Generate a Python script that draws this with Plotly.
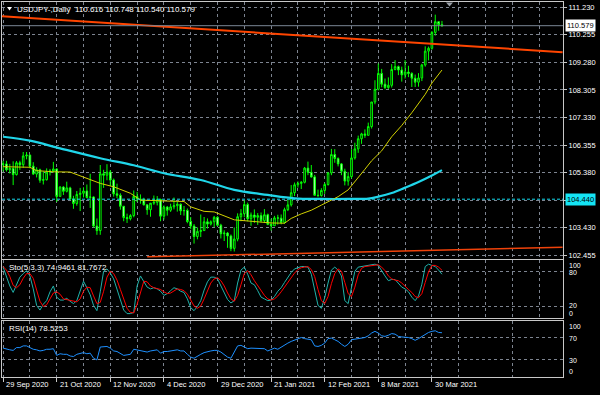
import plotly.graph_objects as go
import pandas as pd

# ---------------- data ----------------
bdays = pd.bdate_range("2020-09-29", "2021-04-02")
holidays = pd.to_datetime(["2020-12-25", "2021-01-01"])
dates = [d for d in bdays if d not in holidays]
bars = list(range(len(dates)))

opens = [105.67,105.69,105.48,105.53,105.31,105.73,105.66,105.97,106.00,105.61,
         105.33,105.48,105.11,105.13,105.40,105.44,105.51,104.54,104.87,104.72,
         104.84,104.45,104.29,104.61,104.65,104.73,104.50,104.52,103.49,103.33,
         105.34,105.29,105.40,105.12,104.63,104.58,104.19,103.79,103.75,103.86,
         104.54,104.45,104.42,104.24,104.07,104.30,104.33,104.43,103.84,104.16,
         104.05,104.17,104.21,104.26,104.03,104.04,103.65,103.49,103.12,103.30,
         103.33,103.64,103.56,103.64,103.80,103.52,103.22,103.24,103.14,102.70,
         103.03,103.82,103.93,104.25,103.75,103.88,103.80,103.86,103.68,103.89,
         103.55,103.50,103.78,103.77,103.62,104.07,104.24,104.67,104.95,105.00,
         105.04,105.54,105.39,105.23,104.58,104.57,104.75,104.96,105.37,106.02,
         105.88,105.69,105.43,105.08,105.24,105.90,106.22,106.58,106.75,106.70,
         107.01,107.88,108.33,108.89,108.51,108.39,108.47,109.03,109.13,109.01,
         108.84,108.94,108.89,108.72,108.58,108.73,109.19,109.68,109.78,110.34,
         110.72,110.616]
highs = [105.80,105.80,105.69,105.78,105.79,105.80,106.11,106.11,106.02,105.75,
         105.57,105.52,105.42,105.53,105.51,105.76,105.53,104.90,104.90,105.06,
         104.88,104.56,104.73,104.84,104.86,104.96,105.34,104.54,103.76,105.65,
         105.48,105.68,105.47,105.17,104.99,104.65,104.20,103.93,103.91,104.75,
         104.70,104.61,104.49,104.26,104.27,104.57,104.55,104.46,104.22,104.20,
         104.28,104.50,104.34,104.29,104.20,104.11,103.81,103.56,103.44,103.90,
         103.81,103.76,103.69,103.85,103.84,103.57,103.34,103.28,103.19,103.44,
         103.94,104.09,104.40,104.32,103.97,104.08,103.95,103.97,104.09,103.93,
         103.75,103.85,103.89,103.90,104.14,104.43,104.94,105.03,105.07,105.08,
         105.58,105.77,105.65,105.30,104.78,104.83,105.02,105.39,106.22,106.21,
         105.92,105.72,105.52,105.40,106.21,106.44,106.69,106.79,106.91,107.15,
         107.87,108.65,109.24,109.05,108.71,108.75,109.22,109.36,109.17,109.13,
         109.36,109.16,108.93,108.85,108.90,109.23,109.85,109.84,110.39,110.97,
         110.73,110.748]
lows = [105.42,105.42,105.35,104.94,105.28,105.48,105.55,105.85,105.53,105.30,
        105.21,105.02,104.96,105.10,105.28,105.38,104.34,104.53,104.59,104.68,
        104.41,104.10,104.21,104.02,104.50,104.47,104.13,103.44,103.18,103.18,
        104.84,105.11,104.90,104.53,104.48,104.07,103.66,103.60,103.69,103.80,
        104.34,104.28,104.22,103.89,103.82,104.24,104.22,103.66,103.72,103.86,
        103.99,104.08,104.00,103.88,103.86,103.59,103.38,102.87,103.02,103.10,
        103.32,103.40,103.51,103.45,103.49,103.05,102.96,102.72,102.60,102.59,
        102.95,103.66,103.80,103.66,103.50,103.60,103.53,103.62,103.60,103.52,
        103.33,103.50,103.54,103.55,103.57,104.02,104.18,104.55,104.85,104.80,
        105.00,105.29,105.20,104.59,104.51,104.53,104.63,104.92,105.29,105.73,
        105.60,105.29,104.93,104.92,105.17,105.84,106.08,106.40,106.61,106.70,
        106.94,107.80,108.29,108.40,108.33,108.34,108.39,109.00,108.83,108.60,
        108.71,108.76,108.41,108.41,108.42,108.62,109.13,109.35,109.73,110.23,
        110.40,110.540]
closes = [105.69,105.48,105.53,105.31,105.73,105.66,105.97,106.00,105.61,105.33,
          105.48,105.11,105.13,105.40,105.44,105.51,104.54,104.87,104.72,104.84,
          104.45,104.29,104.61,104.65,104.73,104.50,104.52,103.49,103.33,105.34,
          105.29,105.40,105.12,104.63,104.58,104.19,103.79,103.75,103.86,104.54,
          104.45,104.42,104.24,104.07,104.30,104.33,104.43,103.84,104.16,104.05,
          104.17,104.21,104.26,104.03,104.04,103.65,103.49,103.12,103.30,103.33,
          103.64,103.56,103.64,103.80,103.52,103.22,103.24,103.14,102.70,103.03,
          103.82,103.93,104.25,103.75,103.88,103.80,103.86,103.68,103.89,103.55,
          103.50,103.78,103.77,103.62,104.07,104.24,104.67,104.95,105.00,105.04,
          105.54,105.39,105.23,104.58,104.57,104.75,104.96,105.37,106.02,105.88,
          105.69,105.43,105.08,105.24,105.90,106.22,106.58,106.75,106.70,107.01,
          107.88,108.33,108.89,108.51,108.39,108.47,109.03,109.13,109.01,108.84,
          108.94,108.89,108.72,108.58,108.73,109.19,109.68,109.78,110.34,110.72,
          110.62,110.579]

# moving averages (bar index -> value)
ma200_bars = [0, 8, 17, 29, 39, 48, 59, 69, 79, 87, 95, 103, 109, 112, 116, 120, 124, 128, 131]
ma200_vals = [106.65, 106.51, 106.24, 105.89, 105.64, 105.36, 105.12, 104.77, 104.59, 104.47,
              104.45, 104.45, 104.46, 104.53, 104.66, 104.85, 105.05, 105.28, 105.47]
ma20_bars = [0, 8, 10, 15, 20, 25, 29, 33, 38, 41, 46, 50, 54, 56, 60, 63, 69, 74, 77, 80,
             84, 86, 89, 92, 95, 100, 103, 105, 108, 110, 113, 116, 119, 122, 124, 126, 128, 131]
ma20_vals = [105.59, 105.57, 105.45, 105.41, 105.40, 105.18, 105.00, 104.88, 104.65, 104.41,
             104.38, 104.37, 104.36, 104.17, 104.01, 103.99, 103.71, 103.66, 103.64, 103.60,
             103.59, 103.76, 103.92, 104.05, 104.23, 104.53, 104.77, 105.05, 105.50, 105.80,
             106.15, 106.65, 107.05, 107.50, 107.83, 108.15, 108.55, 109.01]

# trendlines (bar index, price) – both run to the right edge
trend_top_bars = [-1, 167]
trend_top_vals = [110.92, 109.64]
trend_low_bars = [43, 167]
trend_low_vals = [102.40, 102.74]

hline_level = 104.440
last_price = 110.579

sto_main = [87, 70, 55, 44, 58, 70, 76, 81, 72, 50,
            22, 14, 24, 30, 45, 55, 36, 31, 31, 34,
            29, 25, 30, 45, 63, 52, 40, 22, 13, 45,
            80, 84, 77, 67, 50, 30, 14, 8, 8, 10,
            55, 72, 62, 53, 50, 52, 50, 46, 39, 42,
            47, 52, 50, 46, 44, 33, 18, 13, 20, 30,
            48, 62, 70, 70, 67, 55, 42, 32, 26, 30,
            60, 82, 87, 75, 60, 57, 47, 36, 33, 30,
            31, 37, 46, 52, 61, 70, 78, 84, 86, 88,
            88, 87, 75, 50, 22, 17, 35, 60, 82, 87,
            82, 72, 30, 25, 55, 80, 87, 88, 89, 89,
            90, 92, 90, 80, 72, 64, 66, 66, 60, 53,
            50, 45, 36, 30, 38, 58, 88, 92, 90, 88,
            82, 74.9461]
sto_signal = [88, 82, 71, 56, 52, 57, 68, 76, 76, 68,
              48, 29, 20, 23, 33, 43, 45, 41, 33, 32,
              31, 29, 28, 33, 46, 53, 52, 38, 25, 27,
              46, 70, 80, 76, 65, 49, 31, 17, 10, 9,
              24, 46, 63, 62, 55, 52, 51, 49, 45, 42,
              43, 47, 50, 49, 47, 41, 32, 21, 17, 21,
              33, 47, 60, 67, 69, 64, 55, 43, 33, 29,
              39, 57, 76, 81, 74, 64, 55, 47, 39, 33,
              31, 33, 38, 45, 53, 61, 70, 77, 83, 86,
              87, 88, 83, 71, 49, 30, 25, 37, 59, 76,
              84, 80, 61, 42, 37, 53, 74, 85, 88, 89,
              89, 90, 91, 87, 81, 72, 67, 65, 64, 60,
              54, 49, 44, 37, 35, 42, 61, 79, 90, 90,
              87, 81.7672]
rsi = [51, 49, 48, 47, 52, 52, 55, 55, 52, 49,
       48, 46, 47, 49, 49, 50, 38, 41, 40, 40,
       37, 36, 40, 42, 43, 41, 42, 33, 30, 53,
       53, 54, 51, 46, 45, 41, 38, 39, 40, 49,
       48, 47, 46, 44, 46, 47, 48, 42, 45, 45,
       46, 47, 48, 46, 46, 40, 35, 33, 37, 40,
       43, 45, 46, 47, 47, 44, 40, 35, 33, 45,
       55, 56, 53, 50, 51, 51, 51, 51, 50, 46,
       48, 51, 49, 53, 56, 60, 63, 65, 67, 70,
       68, 67, 66, 55, 54, 56, 60, 68, 69, 66,
       63, 58, 54, 58, 66, 67, 68, 69, 70, 73,
       78, 81, 78, 73, 72, 74, 77, 76, 72, 71,
       71, 70, 68, 65, 68, 72, 76, 79, 81, 82,
       79, 78.5253]

price_ticks = [102.455, 103.430, 104.405, 105.380, 106.355, 107.330, 108.305, 109.280, 110.255, 111.230]
price_tick_text = ["102.455", "103.430", "", "105.380", "106.355", "107.330", "108.305", "109.280", "110.255", "111.230"]
date_label_bars = [0, 16, 32, 48, 64, 80, 96, 112, 128]
date_labels = ["29 Sep 2020", "21 Oct 2020", "12 Nov 2020", "4 Dec 2020", "29 Dec 2020",
               "21 Jan 2021", "12 Feb 2021", "8 Mar 2021", "30 Mar 2021"]

# ---------------- layout helpers ----------------
W, H = 600, 395
ML, MR, MT, MB = 2, 37, 2, 18
PW, PH = W - ML - MR, H - MT - MB


def pxx(x):
    return (x - ML) / PW


def pyy(y):
    return (H - MB - y) / PH


FONT = "Liberation Sans, Arial, sans-serif"
GRID = "#7d8490"
BORDER = "#c8c8c8"
XR = [-0.33, 167.13]

fig = go.Figure()

fig.add_trace(go.Candlestick(
    x=bars, open=opens, high=highs, low=lows, close=closes,
    xaxis="x", yaxis="y",
    increasing=dict(line=dict(color="#00ff00", width=1), fillcolor="#000000"),
    decreasing=dict(line=dict(color="#00ff00", width=1), fillcolor="#e4ffe4"),
    whiskerwidth=0, showlegend=False, hoverinfo="skip"))

fig.add_trace(go.Scatter(x=trend_top_bars, y=trend_top_vals, mode="lines",
                         line=dict(color="#ff4500", width=2), xaxis="x", yaxis="y", showlegend=False))
fig.add_trace(go.Scatter(x=trend_low_bars, y=trend_low_vals, mode="lines",
                         line=dict(color="#f0420a", width=1.5), xaxis="x", yaxis="y", showlegend=False))
fig.add_trace(go.Scatter(x=ma200_bars, y=ma200_vals, mode="lines", line_shape="spline",
                         line=dict(color="#20d6ea", width=2.2), xaxis="x", yaxis="y", showlegend=False))
fig.add_trace(go.Scatter(x=ma20_bars, y=ma20_vals, mode="lines",
                         line=dict(color="#d2d200", width=1), xaxis="x", yaxis="y", showlegend=False))

fig.add_trace(go.Scatter(x=bars, y=sto_main, mode="lines", line=dict(color="#20b2aa", width=1),
                         xaxis="x2", yaxis="y2", showlegend=False))
fig.add_trace(go.Scatter(x=bars, y=sto_signal, mode="lines", line=dict(color="#ff0000", width=1),
                         xaxis="x2", yaxis="y2", showlegend=False))
fig.add_trace(go.Scatter(x=bars, y=rsi, mode="lines", line=dict(color="#1e90ff", width=1),
                         xaxis="x3", yaxis="y3", showlegend=False))

xcommon = dict(range=XR, showline=True, linecolor=BORDER, linewidth=1, mirror=True,
               showgrid=True, gridcolor=GRID, griddash="3px,3px", gridwidth=1,
               zeroline=False, fixedrange=True)

fig.update_layout(
    width=W, height=H,
    margin=dict(l=ML, r=MR, t=MT, b=MB),
    paper_bgcolor="#000000", plot_bgcolor="#000000",
    font=dict(family=FONT, color="#ffffff", size=8),
    showlegend=False,
    xaxis=dict(**xcommon, anchor="y", tickmode="linear", tick0=0, dtick=8, showticklabels=False,
               rangeslider=dict(visible=False)),
    xaxis2=dict(**xcommon, anchor="y2", tickmode="linear", tick0=0, dtick=8, showticklabels=False),
    xaxis3=dict(**xcommon, anchor="y3", tickmode="array", tickvals=date_label_bars, showticklabels=False,
                ticks="outside", ticklen=4, tickcolor=BORDER,
                minor=dict(tickmode="linear", tick0=8, dtick=16, showgrid=True, gridcolor=GRID,
                           griddash="3px,3px", ticks="")),
    yaxis=dict(domain=[pyy(258.5), 1.0], range=[102.342, 111.4175], side="right",
               tickmode="array", tickvals=price_ticks, ticktext=price_tick_text,
               showline=True, linecolor=BORDER, mirror=True, ticks="outside", ticklen=3,
               tickcolor=BORDER, tickfont=dict(size=7.5, color="#ffffff"),
               showgrid=True, gridcolor=GRID, griddash="3px,3px", zeroline=False, fixedrange=True),
    yaxis2=dict(domain=[pyy(318.3), pyy(259.5)], range=[0, 100], side="right",
                tickmode="array", tickvals=[20, 80], showticklabels=False,
                showline=True, linecolor=BORDER, mirror=True,
                showgrid=True, gridcolor=GRID, griddash="3px,3px", zeroline=False, fixedrange=True),
    yaxis3=dict(domain=[pyy(376.7), pyy(320.7)], range=[0, 100], side="right",
                tickmode="array", tickvals=[30, 70], showticklabels=False,
                showline=True, linecolor=BORDER, mirror=True,
                showgrid=True, gridcolor=GRID, griddash="3px,3px", zeroline=False, fixedrange=True),
)

shapes = [
    dict(type="line", xref="x domain", yref="y", x0=0, x1=1, y0=last_price, y1=last_price,
         line=dict(color="#7a8796", width=1)),
    dict(type="line", xref="x domain", yref="y", x0=0, x1=1, y0=hline_level, y1=hline_level,
         line=dict(color="#14d8ec", width=1, dash="3px,2px")),
    dict(type="path", xref="paper", yref="paper",
         path=f"M {pxx(446)} {pyy(2.5)} L {pxx(453)} {pyy(2.5)} L {pxx(449.5)} {pyy(6.5)} Z",
         fillcolor="#9aa0a8", line=dict(width=0)),
    dict(type="path", xref="paper", yref="paper",
         path=f"M {pxx(7)} {pyy(7)} L {pxx(12)} {pyy(7)} L {pxx(9.5)} {pyy(10.5)} Z",
         fillcolor="#ffffff", line=dict(width=0)),
]
fig.update_layout(shapes=shapes)

ann = []
ann.append(dict(text="USDJPY-,Daily  110.616 110.748 110.540 110.579", x=pxx(15), y=pyy(9),
                xref="paper", yref="paper", xanchor="left", yanchor="middle", showarrow=False,
                font=dict(size=8, color="#ffffff")))
ann.append(dict(text="Sto(5,3,3) 74.9461 81.7672", x=pxx(7), y=pyy(267),
                xref="paper", yref="paper", xanchor="left", yanchor="middle", showarrow=False,
                font=dict(size=8, color="#ffffff")))
ann.append(dict(text="RSI(14) 78.5253", x=pxx(7), y=pyy(328),
                xref="paper", yref="paper", xanchor="left", yanchor="middle", showarrow=False,
                font=dict(size=8, color="#ffffff")))
ann.append(dict(text="110.579", x=pxx(564.5), y=last_price, xref="paper", yref="y",
                xanchor="left", yanchor="middle", showarrow=False, bgcolor="#ffffff",
                borderpad=1, font=dict(size=7.5, color="#000000")))
ann.append(dict(text="104.440", x=pxx(564.5), y=hline_level, xref="paper", yref="y",
                xanchor="left", yanchor="middle", showarrow=False, bgcolor="#14e4f4",
                borderpad=1, font=dict(size=7.5, color="#000000")))
for txt, yy in [("100", 265.0), ("80", 272.5), ("20", 305.3), ("0", 313.0),
                ("100", 326), ("70", 338), ("30", 360.7), ("0", 371)]:
    ann.append(dict(text=txt, x=pxx(567), y=pyy(yy), xref="paper", yref="paper",
                    xanchor="left", yanchor="middle", showarrow=False,
                    font=dict(size=7, color="#ffffff")))
for b, t in zip(date_label_bars, date_labels):
    ann.append(dict(text=t, x=b, y=pyy(384), xref="x3", yref="paper", xanchor="left",
                    yanchor="middle", xshift=1, showarrow=False,
                    font=dict(size=7.5, color="#ffffff")))
fig.update_layout(annotations=ann)

fig.write_html("out.html", config={"displayModeBar": False, "staticPlot": True})

# remove the default page margin so the 600x395 figure sits at the window origin
with open("out.html", "r", encoding="utf-8") as f:
    html = f.read()
html = html.replace("<head>", "<head><style>html,body{margin:0;padding:0;overflow:hidden;background:#000}</style>", 1)
with open("out.html", "w", encoding="utf-8") as f:
    f.write(html)
